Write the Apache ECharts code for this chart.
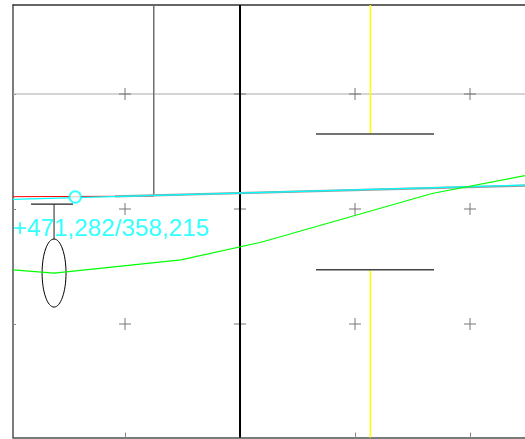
<!DOCTYPE html>
<html>
<head>
<meta charset="utf-8">
<script src="https://cdn.jsdelivr.net/npm/echarts@6/dist/echarts.min.js"></script>
<style>html,body{margin:0;padding:0;background:#fff}#c{width:525px;height:439px}</style>
</head>
<body>
<div id="c"></div>
<script>
// Axis ranges and tick positions (data units)
const xRange = [0.026, 4.478];
const yRange = [0.013, 3.774];
const xTicks = [1, 2, 3, 4];
const yTicks = [1, 2, 3];

// Lines
const gridLineH = [[0.026, 3.0], [4.478, 3.0]];
const grayVertical = [[1.25, 3.774], [1.25, 2.113]];
const blackVertical = [[2.0, 3.774], [2.0, 0.013]];
const yellowTop = [[3.133, 3.774], [3.133, 2.652]];
const yellowBottom = [[3.133, 1.472], [3.133, 0.013]];
const whiskerTop = [[2.661, 2.652], [3.687, 2.652]];
const whiskerBottom = [[2.661, 1.472], [3.687, 1.472]];
const leftCap = [[0.183, 2.043], [0.548, 2.043]];
const leftStem = [[0.383, 2.043], [0.383, 1.739]];
const redLine = [[0.026, 2.107], [1.25, 2.112]];
const grayLine = [[0.913, 2.109], [4.478, 2.203]];
const cyanLine = [[0.026, 2.083], [4.478, 2.207]];
const greenLine = [[0.026, 1.470], [0.383, 1.443], [1.487, 1.557], [2.191, 1.713], [3.670, 2.135], [4.478, 2.291]];

// Ellipse [cx, cy, rx, ry]
const ellipse = [[0.383, 1.443, 0.104, 0.296]];
// Marker circle
const marker = [[0.567, 2.104]];
// Label
const labelText = '+471,282/358,215';
const labelPos = [[0.026, 1.82]];

// plus marks at tick intersections
const plusPts = [];
xTicks.forEach(x => yTicks.forEach(y => plusPts.push([x, y])));

function seg(data, color, width) {
  return {type: 'line', data: data, symbol: 'none', silent: true, animation: false,
    lineStyle: {color: color, width: width}, z: 2};
}

const frameColor = '#505050';
const chart = echarts.init(document.getElementById('c'), null, {renderer: 'canvas'});
chart.setOption({
  animation: false,
  grid: {left: 13, top: 5, right: 0, bottom: 1.5, show: false},
  xAxis: [
    {type: 'value', min: xRange[0], max: xRange[1], position: 'bottom',
      axisLine: {show: true, onZero: false, lineStyle: {color: frameColor, width: 1.5}},
      splitLine: {show: false}, axisLabel: {show: false},
      axisTick: {show: true, inside: true, length: 5, customValues: xTicks, lineStyle: {color: '#888'}}},
    {type: 'value', min: xRange[0], max: xRange[1], position: 'top',
      axisLine: {show: true, onZero: false, lineStyle: {color: '#333', width: 1.5}},
      splitLine: {show: false}, axisLabel: {show: false}, axisTick: {show: false}}
  ],
  yAxis: {type: 'value', min: yRange[0], max: yRange[1],
    axisLine: {show: true, onZero: false, lineStyle: {color: frameColor, width: 1.5}},
    splitLine: {show: false}, axisLabel: {show: false},
    axisTick: {show: true, inside: true, length: 3, customValues: yTicks, lineStyle: {color: '#888'}}},
  series: [
    seg(gridLineH, '#aaaaaa', 1),
    {type: 'custom', silent: true, animation: false, data: plusPts, z: 3,
      renderItem: function (params, api) {
        const p = api.coord([api.value(0), api.value(1)]);
        const s = 6;
        return {type: 'group', children: [
          {type: 'line', shape: {x1: p[0] - s, y1: p[1], x2: p[0] + s, y2: p[1]}, style: {stroke: '#777', lineWidth: 1}},
          {type: 'line', shape: {x1: p[0], y1: p[1] - s, x2: p[0], y2: p[1] + s}, style: {stroke: '#777', lineWidth: 1}}
        ]};
      }},
    seg(grayVertical, '#707070', 1.5),
    Object.assign(seg(blackVertical, '#000000', 2), {z: 4}),
    seg(yellowTop, '#ffff00', 1.5),
    seg(yellowBottom, '#ffff00', 1.5),
    seg(whiskerTop, '#444444', 1.5),
    seg(whiskerBottom, '#444444', 1.5),
    seg(leftCap, '#222222', 1.2),
    seg(leftStem, '#222222', 1),
    {type: 'custom', silent: true, animation: false, data: ellipse, z: 5,
      renderItem: function (params, api) {
        const c = api.coord([api.value(0), api.value(1)]);
        const sz = api.size([api.value(2), api.value(3)]);
        return {type: 'ellipse', shape: {cx: c[0], cy: c[1], rx: sz[0], ry: sz[1]},
          style: {fill: 'none', stroke: '#000', lineWidth: 1}};
      }},
    seg(redLine, '#ff0000', 1),
    Object.assign(seg(grayLine, '#9a9a9a', 2.2), {z: 5}),
    Object.assign(seg(cyanLine, '#00ffff', 1.2), {z: 6}),
    Object.assign(seg(greenLine, '#00ff00', 1.2), {z: 6}),
    {type: 'scatter', data: marker, symbol: 'emptyCircle', symbolSize: 11.5, silent: true, animation: false, z: 7,
      itemStyle: {color: '#00ffff', borderColor: '#00ffff', borderWidth: 1}},
    {type: 'scatter', data: labelPos, symbolSize: 0, silent: true, animation: false, z: 8,
      label: {show: true, position: 'right', distance: 0, formatter: labelText,
        color: '#00ffff', fontSize: 24.3, fontFamily: 'Liberation Sans, Arial, sans-serif', align: 'left', verticalAlign: 'middle'}}
  ]
});
</script>
</body>
</html>
